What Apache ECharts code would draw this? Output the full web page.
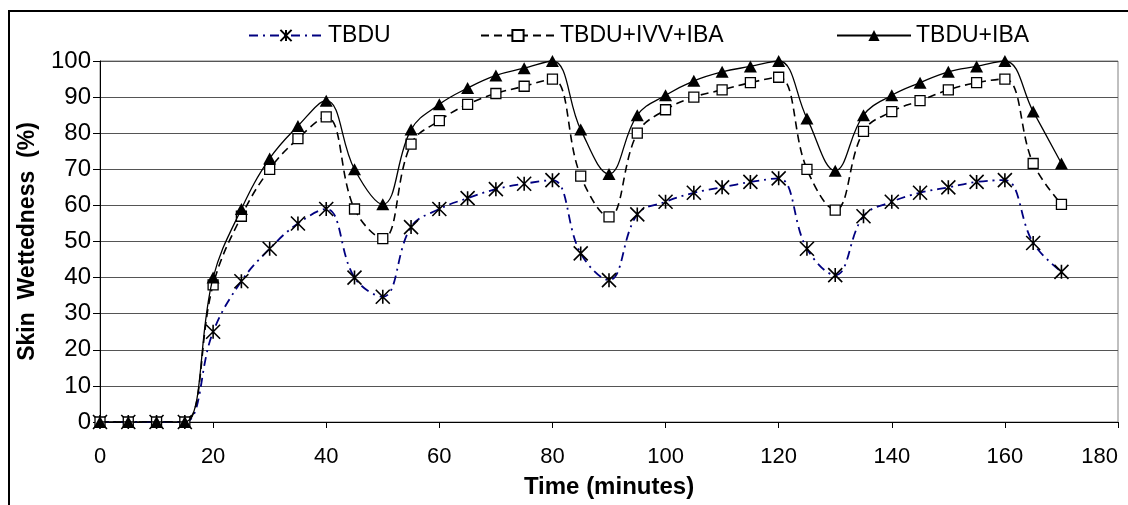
<!DOCTYPE html>
<html>
<head>
<meta charset="utf-8">
<script src="https://cdn.jsdelivr.net/npm/echarts@6/dist/echarts.min.js"></script>
<style>
html,body{margin:0;padding:0;background:#fff;}
#chart{width:1128px;height:505px;}
</style>
</head>
<body>
<div id="chart"></div>
<script>
const timeMin = [0,5,10,15,20,25,30,35,40,45,50,55,60,65,70,75,80,85,90,95,100,105,110,115,120,125,130,135,140,145,150,155,160,165,170];
const tbdu = [0,0,0,0,25,39,48,55,59,40,34.7,54,59,62,64.5,66,67,46.7,39.3,57.5,61,63.5,65,66.5,67.5,48,40.7,57,61,63.5,65,66.5,67,49.6,41.6];
const tbduIvvIba = [0,0,0,0,38,57,70,78.5,84.5,59,50.8,77,83.5,88,91,93,95,68.1,56.8,80,86.5,90,92,94,95.5,70,58.7,80.5,86,89,92,94,95,71.6,60.3];
const tbduIba = [0,0,0,0,40,59,73,82,89,70,60.3,81,88,92.5,96,98,100,81,68.7,85,90.5,94.5,97,98.5,100,84.1,69.6,85,90.5,94,97,98.5,100,86,71.6];
const seriesNames = ['TBDU','TBDU+IVV+IBA','TBDU+IBA'];
const xTicks = {min:0, max:180, step:20};
const yTicks = {min:0, max:100, step:10};

const pairs = arr => timeMin.map((t,i)=>[t,arr[i]]);
const FONT = '"Liberation Sans", Arial, sans-serif';
const starPath = 'path://M0,0L12,12M12,0L0,12M6,0L6,12';

const chart = echarts.init(document.getElementById('chart'), null, {renderer:'canvas'});
const legendBase = {
  orient:'horizontal', top:19, itemWidth:74, itemHeight:14, itemGap:10,
  textStyle:{fontFamily:FONT, fontSize:23, color:'#000'}
};
chart.setOption({
  animation:false,
  backgroundColor:'#fff',
  graphic:[{type:'rect', shape:{x:9,y:11,width:1200,height:600}, style:{fill:'none', stroke:'#000', lineWidth:2}, z:-1}],
  legend:[
    Object.assign({}, legendBase, {left:243, data:[seriesNames[0]]}),
    Object.assign({}, legendBase, {left:475, data:[seriesNames[1]]}),
    Object.assign({}, legendBase, {left:831, data:[seriesNames[2]]})
  ],
  grid:{left:100, right:10, top:61, bottom:83, show:true, borderColor:'#808080', borderWidth:1, containLabel:false, outerBoundsMode:'none'},
  xAxis:{
    type:'value', min:xTicks.min, max:xTicks.max, interval:xTicks.step,
    name:'Time (minutes)', nameLocation:'middle', nameGap:53,
    nameTextStyle:{fontFamily:FONT, fontSize:24, fontWeight:'bold', color:'#000'},
    axisLine:{show:true, onZero:false, lineStyle:{color:'#000', width:1}},
    axisTick:{show:true, length:6, lineStyle:{color:'#000'}},
    axisLabel:{fontFamily:FONT, fontSize:22, color:'#000', margin:24, alignMaxLabel:'right'},
    splitLine:{show:false}
  },
  yAxis:{
    type:'value', min:yTicks.min, max:yTicks.max, interval:yTicks.step,
    name:'Skin  Wettedness  (%)', nameLocation:'middle', nameGap:61,
    nameTextStyle:{fontFamily:FONT, fontSize:23, fontWeight:'bold', color:'#000'},
    axisLine:{show:true, lineStyle:{color:'#000', width:1}},
    axisTick:{show:true, length:7, lineStyle:{color:'#000'}},
    axisLabel:{fontFamily:FONT, fontSize:24, color:'#000', margin:9},
    splitLine:{show:true, lineStyle:{color:'#555', width:1}}
  },
  series:[
    {
      name:seriesNames[0], type:'line', data:pairs(tbdu), smooth:0.4,
      symbol:starPath, symbolSize:14,
      lineStyle:{color:'#000080', width:1.8, type:[9,5,2,5]},
      itemStyle:{color:'#000080', borderColor:'#000', borderWidth:1.6},
      z:3
    },
    {
      name:seriesNames[1], type:'line', data:pairs(tbduIvvIba), smooth:0.4,
      symbol:'rect', symbolSize:10,
      lineStyle:{color:'#000', width:1.6, type:[8,5]},
      itemStyle:{color:'#fff', borderColor:'#000', borderWidth:1.3},
      z:4
    },
    {
      name:seriesNames[2], type:'line', data:pairs(tbduIba), smooth:0.4,
      symbol:'triangle', symbolSize:[13,12],
      lineStyle:{color:'#000', width:1.3, type:'solid'},
      itemStyle:{color:'#000', borderColor:'#000', borderWidth:0},
      z:5
    }
  ]
});
</script>
</body>
</html>
